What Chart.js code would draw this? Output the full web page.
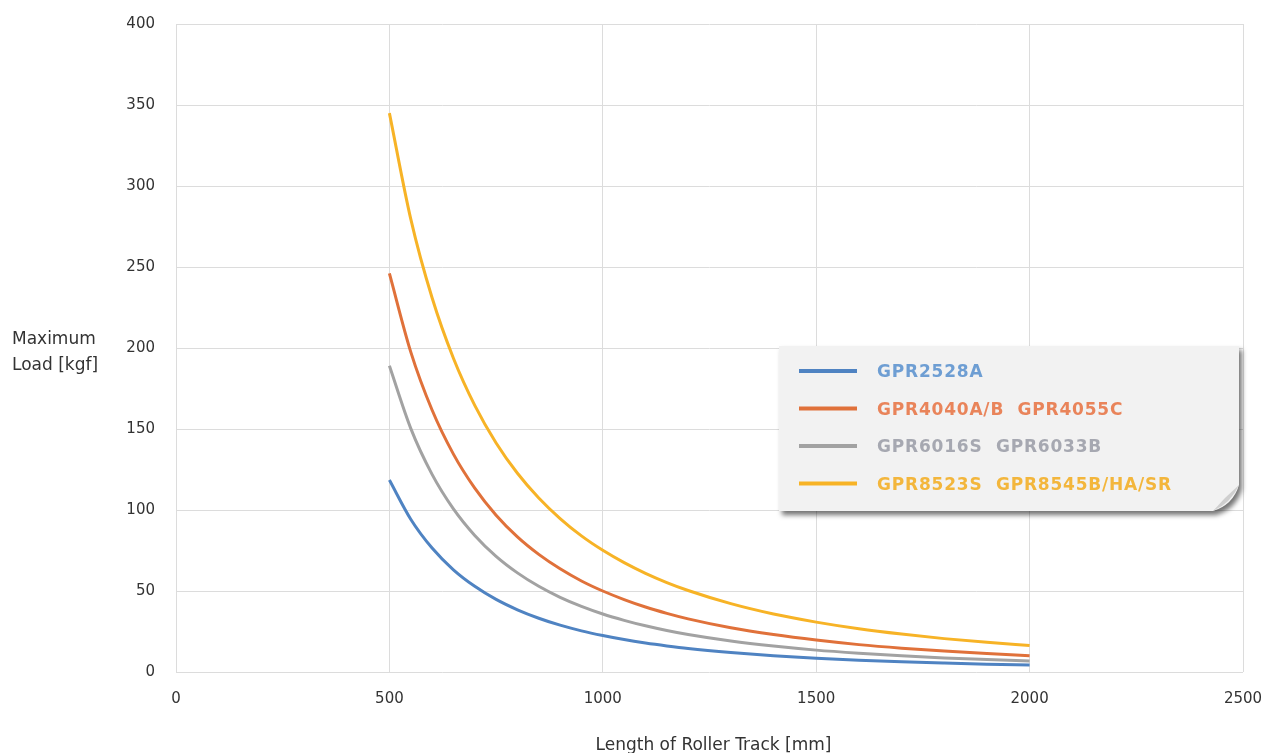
<!DOCTYPE html>
<html>
<head>
<meta charset="utf-8">
<title>Maximum Load vs Length of Roller Track</title>
<script src="https://cdn.jsdelivr.net/npm/chart.js@4.4.1/dist/chart.umd.min.js"></script>
<style>
  html, body { margin: 0; padding: 0; background: #fff; }
  #chart-wrap { width: 1277px; height: 753px; position: relative; }
</style>
</head>
<body>
<div id="chart-wrap"><canvas id="load-chart"></canvas></div>
<script>
// values
const trackLength = [500, 550, 600, 650, 700, 750, 800, 850, 900, 950, 1000, 1050, 1100, 1150, 1200, 1300, 1400, 1500, 1600, 1700, 1800, 1900, 2000];
const gpr2528 = [118.5, 94.3, 76.5, 63.1, 52.9, 44.8, 38.4, 33.2, 28.9, 25.4, 22.5, 20.0, 17.9, 16.1, 14.5, 12.0, 10.0, 8.5, 7.3, 6.3, 5.5, 4.8, 4.3];
const gpr4040 = [246, 197.6, 161.7, 134.5, 113.5, 96.8, 83.4, 72.6, 63.7, 56.2, 50.0, 44.7, 40.1, 36.2, 32.8, 27.3, 23.1, 19.7, 16.9, 14.7, 12.9, 11.4, 10.1];
const gpr6016 = [189, 150.4, 122.0, 100.7, 84.3, 71.4, 61.2, 52.9, 46.1, 40.5, 35.8, 31.9, 28.5, 25.6, 23.1, 19.1, 16.0, 13.5, 11.6, 10.0, 8.7, 7.7, 6.8];
const gpr8523 = [345, 279.7, 231.0, 193.7, 164.6, 141.4, 122.7, 107.4, 94.7, 84.0, 75.1, 67.5, 60.9, 55.2, 50.3, 42.2, 35.8, 30.8, 26.7, 23.4, 20.6, 18.3, 16.3];

const seriesNames = ['GPR2528A', 'GPR4040A/B  GPR4055C', 'GPR6016S  GPR6033B', 'GPR8523S  GPR8545B/HA/SR'];
const xTicks = [0, 500, 1000, 1500, 2000, 2500];
const yTicks = [0, 50, 100, 150, 200, 250, 300, 350, 400];

const lineColors = ['#4f83c2', '#e0713a', '#a2a2a2', '#f7b326'];
const textColors = ['#6e9ed3', '#e9845a', '#a6a8b1', '#f3b63c'];

function toPoints(values) {
    return trackLength.map((len, i) => ({ x: len, y: values[i] }));
}

const allSeries = [gpr2528, gpr4040, gpr6016, gpr8523];

// legend panel with a shadow and a curled corner
const legendPanel = {
    id: 'legendPanel',
    afterDatasetsDraw(chart) {
        const ctx = chart.ctx;
        const area = chart.chartArea;
        const left = area.left + 603, top = 346, right = area.right - 4, bottom = 511;
        const curl = 26;

        ctx.save();
        ctx.beginPath();
        ctx.moveTo(left, top);
        ctx.lineTo(right, top);
        ctx.lineTo(right, bottom - curl);
        ctx.quadraticCurveTo(right - 6, bottom - 6, right - curl, bottom);
        ctx.lineTo(left, bottom);
        ctx.closePath();
        ctx.shadowColor = 'rgba(0,0,0,0.55)';
        ctx.shadowBlur = 5;
        ctx.shadowOffsetX = 3;
        ctx.shadowOffsetY = 4;
        ctx.fillStyle = '#f2f2f2';
        ctx.fill();
        ctx.restore();

        // folded corner
        ctx.save();
        ctx.beginPath();
        ctx.moveTo(right, bottom - curl);
        ctx.quadraticCurveTo(right - 14, bottom - 14, right - curl, bottom);
        ctx.quadraticCurveTo(right - 8, bottom - 8, right, bottom - curl);
        ctx.closePath();
        ctx.fillStyle = '#cfcfcf';
        ctx.fill();
        ctx.restore();

        ctx.save();
        ctx.font = 'bold 17px "DejaVu Sans", sans-serif';
        ctx.letterSpacing = '0.8px';
        ctx.textBaseline = 'middle';
        chart.data.datasets.forEach((ds, i) => {
            const y = top + 25 + i * 37.5;
            ctx.strokeStyle = ds.borderColor;
            ctx.lineWidth = 4;
            ctx.beginPath();
            ctx.moveTo(left + 20, y);
            ctx.lineTo(left + 78, y);
            ctx.stroke();
            ctx.fillStyle = textColors[i];
            ctx.fillText(ds.label, left + 98, y + 2);
        });
        ctx.restore();
    }
};

// horizontal axis titles, as in the original
const axisTitles = {
    id: 'axisTitles',
    afterDraw(chart) {
        const ctx = chart.ctx;
        const area = chart.chartArea;
        ctx.save();
        ctx.fillStyle = '#333';
        ctx.font = '17px "DejaVu Sans", sans-serif';
        ctx.textBaseline = 'middle';
        ctx.textAlign = 'left';
        ctx.fillText('Maximum', 12, 340);
        ctx.fillText('Load [kgf]', 12, 366);
        ctx.textAlign = 'center';
        ctx.fillText('Length of Roller Track [mm]', (area.left + area.right) / 2 + 4, 746);
        ctx.restore();
    }
};

new Chart(document.getElementById('load-chart'), {
    type: 'line',
    data: {
        datasets: allSeries.map((values, i) => ({
            label: seriesNames[i],
            data: toPoints(values),
            borderColor: lineColors[i],
            backgroundColor: lineColors[i],
            borderWidth: 3,
            pointRadius: 0,
            fill: false,
            cubicInterpolationMode: 'monotone'
        }))
    },
    options: {
        responsive: true,
        maintainAspectRatio: false,
        animation: false,
        layout: {
            autoPadding: false,
            padding: { left: 0, top: 24, right: 34, bottom: 0 }
        },
        plugins: {
            legend: { display: false },
            tooltip: { enabled: false }
        },
        scales: {
            x: {
                type: 'linear',
                min: xTicks[0],
                max: xTicks[xTicks.length - 1],
                afterBuildTicks: scale => { scale.ticks = xTicks.map(v => ({ value: v })); },
                afterFit: scale => {
                    scale.height = 81;
                    scale.paddingLeft = 0;
                    scale.paddingRight = 0;
                },
                grid: { color: '#dcdcdc', drawTicks: false },
                border: { display: false },
                ticks: {
                    padding: 18,
                    color: '#333',
                    font: { family: 'DejaVu Sans', size: 15 },
                    callback: v => String(v)
                }
            },
            y: {
                type: 'linear',
                min: yTicks[0],
                max: yTicks[yTicks.length - 1],
                afterBuildTicks: scale => { scale.ticks = yTicks.map(v => ({ value: v })); },
                afterFit: scale => {
                    scale.width = 176;
                    scale.paddingTop = 0;
                    scale.paddingBottom = 0;
                },
                grid: { color: '#dcdcdc', drawTicks: false },
                border: { display: false },
                ticks: {
                    padding: 21,
                    color: '#333',
                    font: { family: 'DejaVu Sans', size: 15 },
                    callback: v => String(v)
                }
            }
        }
    },
    plugins: [legendPanel, axisTitles]
});
</script>
</body>
</html>
